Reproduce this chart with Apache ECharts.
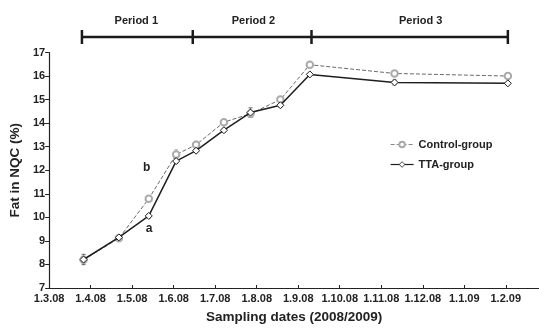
<!DOCTYPE html>
<html>
<head>
<meta charset="utf-8">
<script src="https://cdn.jsdelivr.net/npm/echarts@6/dist/echarts.min.js"></script>
<style>html,body{margin:0;padding:0;background:#fff}#c{width:539px;height:329px}</style>
</head>
<body>
<div id="c"></div>
<script>
// x values are months since 1.3.08
const monthLabels = ['1.3.08','1.4.08','1.5.08','1.6.08','1.7.08','1.8.08','1.9.08','1.10.08','1.11.08','1.12.08','1.1.09','1.2.09'];
const sampleX = [0.83, 1.68, 2.40, 3.06, 3.54, 4.21, 4.85, 5.57, 6.28, 8.32, 11.05];
const controlY = [8.20, 9.11, 10.79, 12.67, 13.08, 14.04, 14.40, 15.00, 16.48, 16.11, 16.00];
const ttaY     = [8.21, 9.15, 10.06, 12.39, 12.83, 13.70, 14.45, 14.76, 16.07, 15.73, 15.69];
const controlErr = [0.15, 0.10, 0.10, 0.20, 0.15, 0.10, 0.15, 0.12, 0.08, 0.10, 0.10];
const ttaErr     = [0.22, 0.08, 0.08, 0.10, 0.08, 0.08, 0.20, 0.08, 0.05, 0.10, 0.05];
const periodBounds = [0.79, 3.46, 6.32, 11.05];
const periodNames = ['Period 1', 'Period 2', 'Period 3'];
const periodLabelX = [2.10, 4.92, 8.95];
const annText = ['b', 'a'];
const annX = [2.35, 2.41];
const annY = [12.11, 9.52];

const FONT = '"Liberation Sans", Arial, Helvetica, sans-serif';
const chart = echarts.init(document.getElementById('c'), null, {renderer: 'canvas'});

const ctrlData = sampleX.map((x, i) => [x, controlY[i]]);
const ttaData = sampleX.map((x, i) => [x, ttaY[i]]);
const errData = sampleX.map((x, i) => [x, controlY[i] - controlErr[i], controlY[i] + controlErr[i], 0])
  .concat(sampleX.map((x, i) => [x, ttaY[i] - ttaErr[i], ttaY[i] + ttaErr[i], 1]));

function errRender(params, api) {
  const x = api.value(0);
  const lo = api.coord([x, api.value(1)]);
  const hi = api.coord([x, api.value(2)]);
  const col = api.value(3) === 0 ? '#aaa' : '#444';
  const w = 2;
  return {
    type: 'group',
    children: [
      {type: 'line', shape: {x1: lo[0], y1: lo[1], x2: hi[0], y2: hi[1]}, style: {stroke: col, lineWidth: 0.8}},
      {type: 'line', shape: {x1: lo[0] - w, y1: lo[1], x2: lo[0] + w, y2: lo[1]}, style: {stroke: col, lineWidth: 0.8}},
      {type: 'line', shape: {x1: hi[0] - w, y1: hi[1], x2: hi[0] + w, y2: hi[1]}, style: {stroke: col, lineWidth: 0.8}}
    ]
  };
}

function periodRender(params, api) {
  const yLine = 37;
  const xs = periodBounds.map(b => api.coord([b, 7])[0]);
  const children = [
    {type: 'line', shape: {x1: xs[0], y1: yLine, x2: xs[xs.length - 1], y2: yLine}, style: {stroke: '#1a1a1a', lineWidth: 2.5}}
  ];
  xs.forEach(x => children.push({type: 'line', shape: {x1: x, y1: yLine - 7, x2: x, y2: yLine + 7}, style: {stroke: '#1a1a1a', lineWidth: 2.5}}));
  periodNames.forEach((n, i) => {
    const px = api.coord([periodLabelX[i], 7])[0];
    children.push({type: 'text', style: {text: n, x: px, y: 21, align: 'center', verticalAlign: 'middle',
      font: 'bold 11px ' + FONT, fill: '#222'}});
  });
  return {type: 'group', children};
}

function annRender(params, api) {
  const p = api.coord([api.value(0), api.value(1)]);
  return {type: 'text', style: {text: annText[params.dataIndex], x: p[0], y: p[1], align: 'center', verticalAlign: 'middle',
    font: 'bold 12px ' + FONT, fill: '#222'}};
}

chart.setOption({
  animation: false,
  backgroundColor: '#fff',
  grid: {left: 48, right: 0, top: 52.5, bottom: 34.7, containLabel: false},
  legend: {
    orient: 'vertical', left: 385, top: 133, itemWidth: 23, itemHeight: 7, itemGap: 7,
    textStyle: {fontFamily: FONT, fontWeight: 'bold', fontSize: 11, color: '#222', lineHeight: 13},
    data: [
      {name: 'Control-group', lineStyle: {width: 0.8}, itemStyle: {borderWidth: 0.8}},
      {name: 'TTA-group', lineStyle: {width: 1.2}, itemStyle: {borderWidth: 0.8}}
    ]
  },
  xAxis: {
    type: 'value', min: 0, max: 11.8, interval: 1,
    name: 'Sampling dates (2008/2009)', nameLocation: 'middle', nameGap: 22,
    nameTextStyle: {fontFamily: FONT, fontWeight: 'bold', fontSize: 13.5, color: '#222'},
    axisLine: {lineStyle: {color: '#222', width: 1.2}},
    axisTick: {inside: true, length: 3, lineStyle: {color: '#222'}},
    axisLabel: {margin: 5, fontFamily: FONT, fontWeight: 'bold', fontSize: 11, color: '#222', showMaxLabel: false,
      formatter: v => (Math.abs(v - Math.round(v)) < 1e-6 && monthLabels[Math.round(v)]) ? monthLabels[Math.round(v)] : ''},
    splitLine: {show: false}
  },
  yAxis: {
    type: 'value', min: 7, max: 17, interval: 1,
    name: 'Fat in NQC (%)', nameLocation: 'middle', nameGap: 25,
    nameTextStyle: {fontFamily: FONT, fontWeight: 'bold', fontSize: 13.5, color: '#222'},
    axisLine: {show: true, lineStyle: {color: '#222', width: 1.2}},
    axisTick: {show: true, inside: false, length: 4, lineStyle: {color: '#222'}},
    axisLabel: {margin: 4, fontFamily: FONT, fontWeight: 'bold', fontSize: 11, color: '#222'},
    splitLine: {show: false}
  },
  series: [
    {type: 'custom', name: 'err', renderItem: errRender, data: errData, encode: {x: 0, y: [1, 2]}, z: 1, silent: true},
    {
      type: 'line', name: 'Control-group', data: ctrlData, z: 2,
      symbol: 'emptyCircle', symbolSize: 6.5,
      lineStyle: {color: '#6a6a6a', width: 1, type: [4, 2]},
      itemStyle: {color: '#aaaaaa', borderColor: '#aaaaaa', borderWidth: 1}
    },
    {
      type: 'line', name: 'TTA-group', data: ttaData, z: 3,
      symbol: 'diamond', symbolSize: 7,
      lineStyle: {color: '#1e1e1e', width: 1.5},
      itemStyle: {color: '#fff', borderColor: '#1e1e1e', borderWidth: 1}
    },
    {type: 'custom', name: 'periods', renderItem: periodRender, data: [[0, 7]], clip: false, silent: true, z: 4},
    {type: 'custom', name: 'ann', renderItem: annRender, data: annX.map((x, i) => [x, annY[i]]), clip: false, silent: true, z: 4}
  ]
});
</script>
</body>
</html>
